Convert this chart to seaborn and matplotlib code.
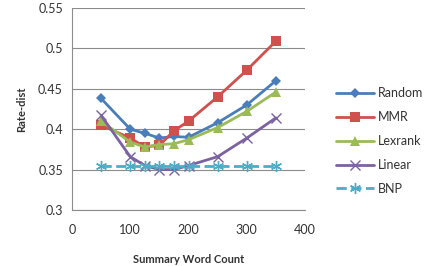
import matplotlib
matplotlib.use("Agg")
import matplotlib.pyplot as plt
import seaborn as sns
import pandas as pd

# word counts on the x axis
word_count = [50, 100, 125, 150, 175, 200, 250, 300, 350]
random_vals = [0.438, 0.400, 0.395, 0.389, 0.391, 0.390, 0.408, 0.430, 0.460]
mmr_vals = [0.405, 0.389, 0.378, 0.380, 0.398, 0.410, 0.440, 0.473, 0.509]
lexrank_vals = [0.410, 0.384, 0.378, 0.381, 0.382, 0.387, 0.402, 0.422, 0.446]
linear_vals = [0.417, 0.366, 0.355, 0.350, 0.350, 0.355, 0.366, 0.389, 0.414]
bnp_vals = [0.355, 0.355, 0.355, 0.355, 0.355, 0.355, 0.355, 0.355, 0.355]
methods = ['Random', 'MMR', 'Lexrank', 'Linear', 'BNP']

sns.set_style('white')
plt.rcParams['font.family'] = ['Lato', 'DejaVu Sans']

series = [random_vals, mmr_vals, lexrank_vals, linear_vals, bnp_vals]
rows = []
for m, vals in zip(methods, series):
    for wc, v in zip(word_count, vals):
        rows.append({'Summary Word Count': wc, 'Rate-dist': v, 'method': m})
df = pd.DataFrame(rows)

palette = {'Random': '#4a7ebb', 'MMR': '#d0504d', 'Lexrank': '#9bbb59',
           'Linear': '#7b62a0', 'BNP': '#4bacc6'}
markers = {'Random': 'D', 'MMR': 's', 'Lexrank': '^', 'Linear': 'x', 'BNP': (6, 2, 0)}
msizes = {'Random': 5, 'MMR': 7, 'Lexrank': 7, 'Linear': 7, 'BNP': 8}

fig = plt.figure(figsize=(4.36, 2.66), dpi=100)
ax = fig.add_axes([72 / 436, 56 / 266, 233 / 436, 202 / 266])
ax.grid(axis='y', color='#8c8c8c', linewidth=0.8, zorder=0)
for m in methods:
    sub = df[df['method'] == m]
    thin = m in ('Linear', 'BNP')
    sns.lineplot(data=sub, x='Summary Word Count', y='Rate-dist', ax=ax,
                 color=palette[m], marker=markers[m], markersize=msizes[m],
                 markeredgecolor=palette[m], markeredgewidth=1.0 if thin else 0,
                 linewidth=2, linestyle='--' if m == 'BNP' else '-', label=m, zorder=3)

ax.set_xlim(0, 400)
ax.set_ylim(0.3, 0.55)
ax.set_xticks([0, 100, 200, 300, 400])
ax.set_yticks([0.3, 0.35, 0.4, 0.45, 0.5, 0.55])
ax.set_yticklabels(['0.3', '0.35', '0.4', '0.45', '0.5', '0.55'])
for s in ['top', 'right']:
    ax.spines[s].set_visible(False)
for s in ['left', 'bottom']:
    ax.spines[s].set_color('#8c8c8c')
    ax.spines[s].set_linewidth(0.8)
ax.tick_params(axis='both', direction='out', length=3, color='#8c8c8c',
               labelsize=9, labelcolor='#333333')
ax.tick_params(axis='x', pad=7)
ax.set_xlabel('Summary Word Count', fontsize=8, fontweight='bold', color='#333333', labelpad=13)
ax.set_ylabel('Rate-dist', fontsize=8, fontweight='bold', color='#333333', labelpad=8)
ax.legend(loc='upper left', bbox_to_anchor=(325 / 436, 1 - 76 / 266),
          bbox_transform=fig.transFigure, frameon=False, fontsize=9,
          handlelength=3.0, labelspacing=0.95, handletextpad=0.3, labelcolor='#333333')
fig.savefig('out.png', dpi=100)
